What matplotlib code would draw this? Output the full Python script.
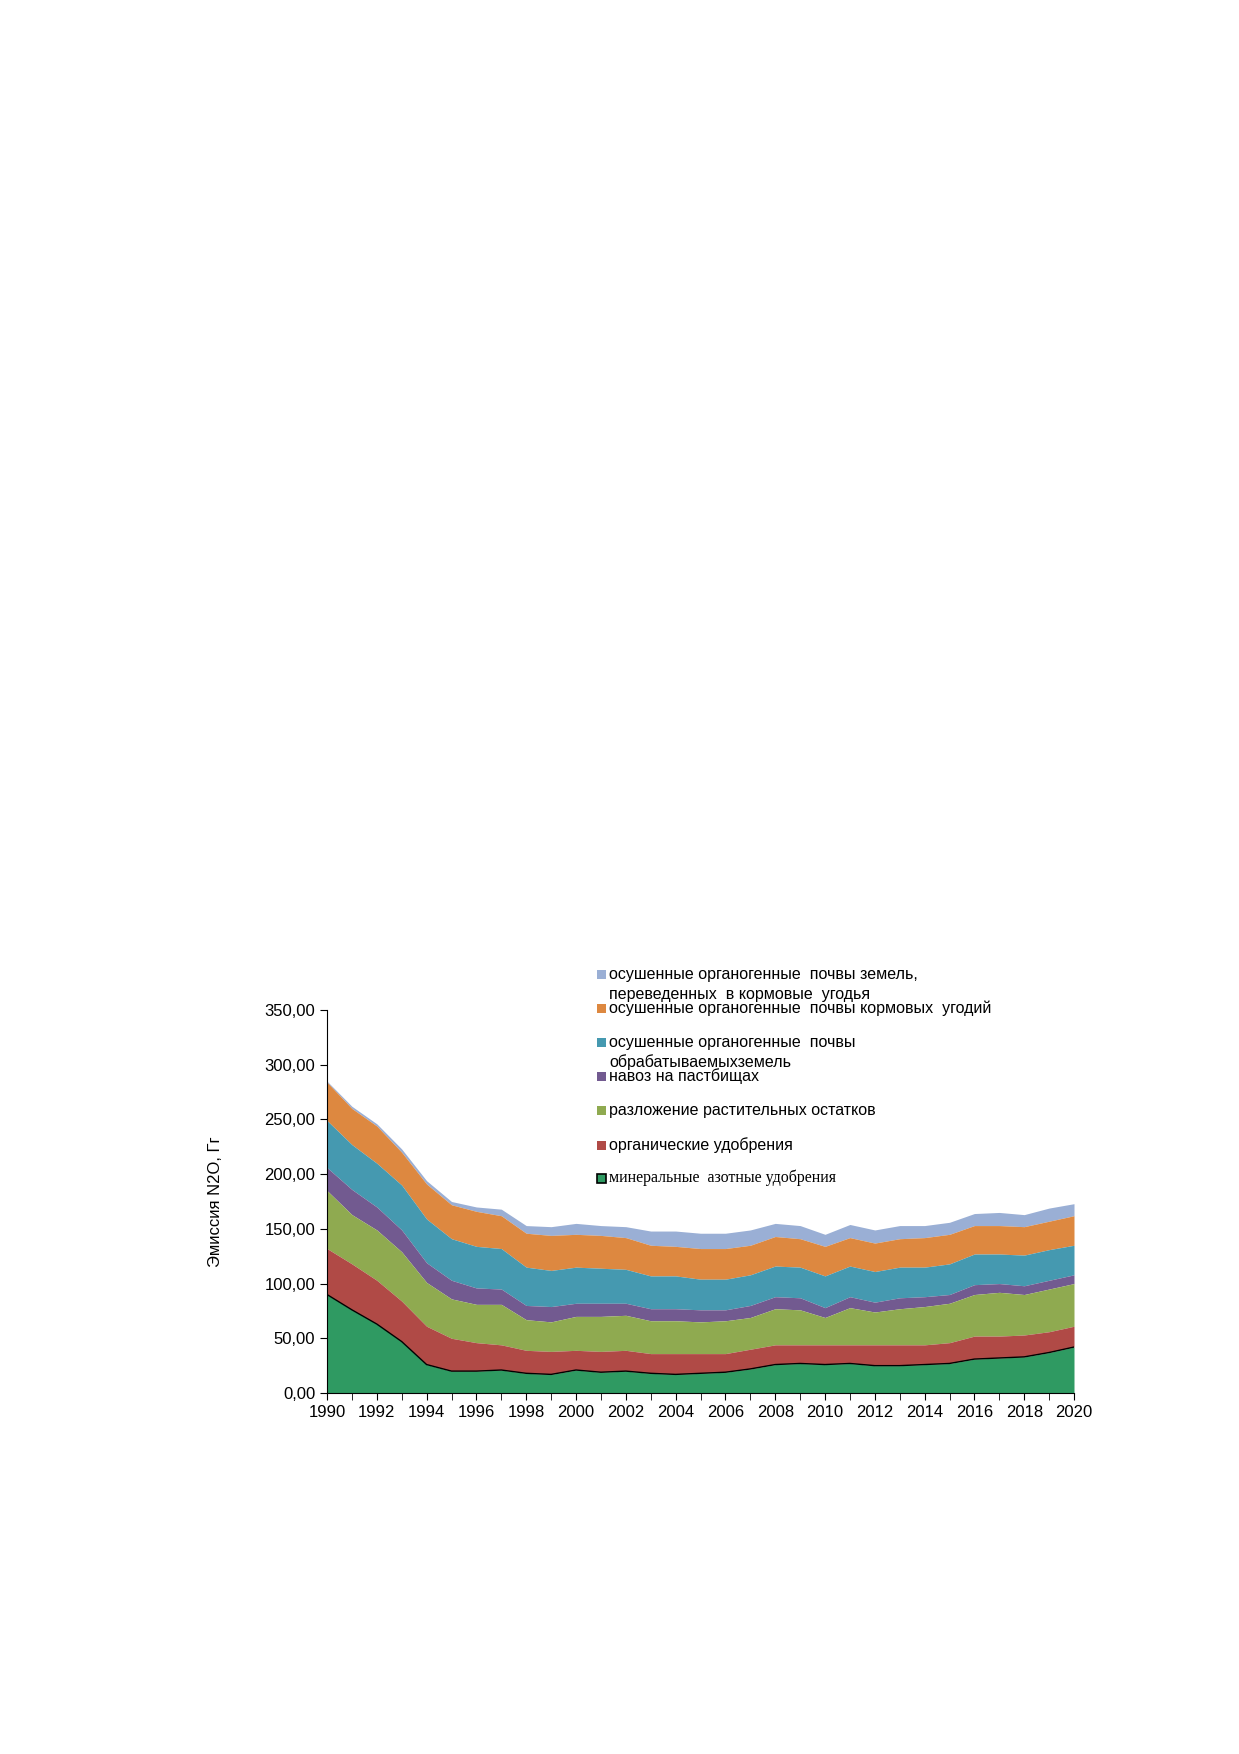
import numpy as np
import matplotlib.pyplot as plt
from matplotlib.patches import Rectangle

years = list(range(1990, 2021))

# cumulative tops
top_mineral = [90, 76, 63, 47, 26, 20, 20, 21, 18, 17, 21, 19, 20, 18, 17, 18, 19, 22, 26, 27, 26, 27, 25, 25, 26, 27, 31, 32, 33, 37, 42]
top_organic = [132, 118, 103, 84, 61, 50, 46, 44, 39, 38, 39, 38, 39, 36, 36, 36, 36, 40, 44, 44, 44, 44, 44, 44, 44, 46, 52, 52, 53, 56, 61]
top_residue = [185, 163, 149, 129, 101, 86, 81, 81, 67, 65, 70, 70, 71, 66, 66, 65, 66, 69, 77, 76, 69, 78, 74, 77, 79, 82, 90, 92, 90, 95, 100]
top_manure = [206, 186, 170, 149, 119, 103, 96, 95, 80, 79, 82, 82, 82, 77, 77, 76, 76, 80, 88, 87, 78, 88, 83, 87, 88, 90, 99, 100, 98, 103, 108]
top_cropland = [249, 227, 210, 190, 159, 141, 134, 132, 115, 112, 115, 114, 113, 107, 107, 104, 104, 108, 116, 115, 107, 116, 111, 115, 115, 118, 127, 127, 126, 131, 135]
top_grassland = [284, 260, 244, 220, 191, 172, 166, 162, 146, 144, 145, 144, 142, 135, 134, 132, 132, 135, 143, 141, 134, 142, 137, 141, 142, 145, 153, 153, 152, 157, 162]
top_converted = [285, 262, 246, 223, 194, 175, 170, 168, 153, 152, 155, 153, 152, 148, 148, 146, 146, 149, 155, 153, 145, 154, 149, 153, 153, 156, 164, 165, 163, 169, 173]

labels = [
    "осушенные органогенные  почвы земель,\nпереведенных  в кормовые  угодья",
    "осушенные органогенные  почвы кормовых  угодий",
    "осушенные органогенные  почвы\nобрабатываемыхземель",
    "навоз на пастбищах",
    "разложение растительных остатков",
    "органические удобрения",
    "минеральные  азотные удобрения",
]
colors = ["#9AAFD5", "#DD8840", "#4599B0", "#725A90", "#8FAA50", "#B04A46", "#2F9A62"]

plt.rcParams['font.family'] = ['Liberation Sans', 'DejaVu Sans']
fig = plt.figure(figsize=(12.39, 17.54), dpi=100)
W, H = 1239, 1754
ax = fig.add_axes([327 / W, 1 - 1393 / H, (1074 - 327) / W, (1393 - 1010) / H])

tops = [top_converted, top_grassland, top_cropland, top_manure, top_residue, top_organic, top_mineral]
bottoms = tops[1:] + [[0] * len(years)]
for t, b, c in zip(tops, bottoms, colors):
    ax.fill_between(years, b, t, color=c, lw=0)
ax.plot(years, top_mineral, color="black", lw=1)

ax.set_xlim(1990, 2020)
ax.set_ylim(0, 350)
ax.set_xticks(range(1990, 2021, 2))
ax.set_xticks(years, minor=True)
ax.set_yticks(range(0, 351, 50))
ax.set_yticklabels([f"{v:.2f}".replace(".", ",") for v in range(0, 351, 50)])
ax.tick_params(axis="both", direction="out", labelsize=12, length=5)
ax.tick_params(axis="x", which="minor", direction="out", length=5)
for s in ["top", "right"]:
    ax.spines[s].set_visible(False)
ax.set_ylabel("Эмиссия N2O, Гг", fontsize=12, labelpad=30)

# legend drawn by hand
rows = [974, 1008, 1042, 1076, 1110, 1145, 1178]
for y, lab, c in zip(rows, labels, colors):
    serif = lab.startswith("минеральные")
    fig.patches.append(Rectangle((597 / W, 1 - (y + 5) / H), 9 / W, 9 / H,
                                 transform=fig.transFigure, facecolor=c,
                                 edgecolor="black" if serif else "none", lw=1.2))
    for i, line in enumerate(lab.split("\n")):
        fig.text(609 / W, 1 - (y + 20 * i) / H, line, fontsize=11.5, va="center",
                 family=['Liberation Serif'] if serif else None)

fig.savefig("out.png", dpi=100)
